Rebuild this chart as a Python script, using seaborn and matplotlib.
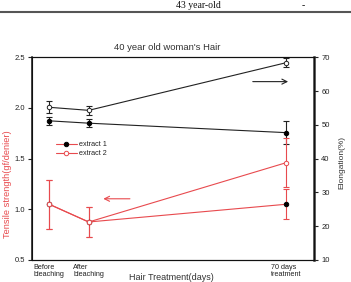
import matplotlib
matplotlib.use("Agg")
import matplotlib.pyplot as plt
import matplotlib.transforms as mtransforms
import seaborn as sns
import pandas as pd
import numpy as np

# ---- data ----
categories = ["Before\nbleaching", "After\nbleaching", "70 days\ntreatment"]
x_pos = [0.3, 1.0, 4.5]

# Tensile strength (left axis, red)
tensile_ext1 = [1.05, 0.875, 1.05]
tensile_ext1_err = [0.24, 0.15, 0.15]
tensile_ext2 = [1.05, 0.875, 1.46]
tensile_ext2_err = [0.24, 0.15, 0.24]

# Elongation (right axis, black)
elong_ext1 = [51.2, 50.5, 47.7]
elong_ext1_err = [1.2, 1.2, 3.5]
elong_ext2 = [55.2, 54.3, 68.4]
elong_ext2_err = [1.8, 1.4, 1.3]

left_ticks = [0.5, 1.0, 1.5, 2.0, 2.5]
right_ticks = [10, 20, 30, 40, 50, 60, 70]

RED = "#e84a4e"
FONT = "Liberation Sans"

sns.set_style("white")
plt.rcParams["font.family"] = [FONT, "DejaVu Sans"]

W, H = 351, 282
fig = plt.figure(figsize=(W / 100, H / 100), dpi=100)
ax_l, ax_r_px, ax_t, ax_b = 32.3, 314.3, 57.3, 260.0
ax = fig.add_axes([ax_l / W, (H - ax_b) / H, (ax_r_px - ax_l) / W, (ax_b - ax_t) / H])
ax2 = ax.twinx()

df_t = pd.DataFrame({"x": x_pos * 2,
                     "v": tensile_ext1 + tensile_ext2,
                     "s": ["extract 1"] * 3 + ["extract 2"] * 3})
df_e = pd.DataFrame({"x": x_pos * 2,
                     "v": elong_ext1 + elong_ext2,
                     "s": ["extract 1"] * 3 + ["extract 2"] * 3})

# black (elongation) on right axis
ax2.errorbar(x_pos, elong_ext2, yerr=elong_ext2_err, fmt="none", ecolor="#222222",
             elinewidth=0.8, capsize=2.2, capthick=0.8, zorder=2)
ax2.errorbar(x_pos, elong_ext1, yerr=elong_ext1_err, fmt="none", ecolor="#222222",
             elinewidth=0.8, capsize=2.2, capthick=0.8, zorder=2)
sns.lineplot(data=df_e[df_e.s == "extract 2"], x="x", y="v", ax=ax2, color="#222222",
             lw=0.8, marker="o", markersize=3.2, markerfacecolor="white",
             markeredgecolor="#222222", markeredgewidth=0.7, legend=False, zorder=3)
sns.lineplot(data=df_e[df_e.s == "extract 1"], x="x", y="v", ax=ax2, color="#222222",
             lw=0.8, marker="o", markersize=3.2, markerfacecolor="black",
             markeredgecolor="black", markeredgewidth=0.7, legend=False, zorder=3)

# red (tensile) on left axis
ax.errorbar(x_pos, tensile_ext1, yerr=tensile_ext1_err, fmt="none", ecolor=RED,
            elinewidth=0.8, capsize=2.2, capthick=0.8, zorder=2)
ax.errorbar(x_pos, tensile_ext2, yerr=tensile_ext2_err, fmt="none", ecolor=RED,
            elinewidth=0.8, capsize=2.2, capthick=0.8, zorder=2)
sns.lineplot(data=df_t[df_t.s == "extract 1"], x="x", y="v", ax=ax, color=RED,
             lw=0.8, marker="o", markersize=3.2, markerfacecolor="black",
             markeredgecolor="black", markeredgewidth=0.7, legend=False, zorder=3,
             label="extract 1")
sns.lineplot(data=df_t[df_t.s == "extract 2"], x="x", y="v", ax=ax, color=RED,
             lw=0.8, marker="o", markersize=3.2, markerfacecolor="white",
             markeredgecolor=RED, markeredgewidth=0.7, legend=False, zorder=3,
             label="extract 2")

ax.set_zorder(ax2.get_zorder() + 1)
ax.patch.set_visible(False)

ax.set_xlim(0, 5)
ax.set_ylim(0.5, 2.5)
ax2.set_ylim(10, 70)
ax.set_xticks([0, 1, 2, 3, 4, 5])
ax.set_xticklabels([])
ax.set_yticks(left_ticks)
ax.set_yticklabels([f"{t:.1f}" for t in left_ticks])
ax2.set_yticks(right_ticks)
ax2.set_yticklabels([str(t) for t in right_ticks])

ax.tick_params(axis="y", direction="out", length=3, width=0.8, pad=2,
               labelsize=5.5, colors="#222222")
ax.tick_params(axis="x", direction="inout", length=3, width=0.8, colors="#222222")
ax2.tick_params(axis="y", direction="out", length=3, width=0.8, pad=2,
                labelsize=5.5, colors="#222222")

for a in (ax, ax2):
    for sp in a.spines.values():
        sp.set_visible(True)
        sp.set_color("#111111")
        sp.set_linewidth(0.8)
ax2.spines["right"].set_linewidth(1.8)
ax2.spines["right"].set_color("#333333")
ax.spines["left"].set_linewidth(1.1)

ax.set_xlabel("")
ax.set_ylabel("")
ax2.set_ylabel("")

# category labels under axis
trans = mtransforms.blended_transform_factory(ax.transData, ax.transAxes)
for xp, lab in zip(x_pos, categories):
    ax.text(xp, -0.018, lab, transform=trans, ha="center", va="top",
            multialignment="left", fontsize=5.2, color="#222222", linespacing=1.0)

fig.text(171 / W, 1 - 277.5 / H, "Hair Treatment(days)", ha="center", va="center",
         fontsize=6.5, color="#333333")
fig.text(167 / W, 1 - 47 / H, "40 year old woman's Hair", ha="center", va="center",
         fontsize=6.8, color="#333333")
fig.text(8 / W, 1 - 184 / H, "Tensile strength(gf/denier)", ha="center", va="center",
         rotation=90, fontsize=6.7, color=RED)
fig.text(342 / W, 1 - 162.5 / H, "Elongation(%)", ha="center", va="center",
         rotation=90, fontsize=6.0, color="#333333")

# arrows
ax.annotate("", xy=(0.917, 0.88), xytext=(0.772, 0.88), xycoords="axes fraction",
            arrowprops=dict(arrowstyle="->", color="#222222", lw=0.8,
                            mutation_scale=9))
ax.annotate("", xy=(0.242, 0.302), xytext=(0.356, 0.302), xycoords="axes fraction",
            arrowprops=dict(arrowstyle="->", color=RED, lw=0.8, mutation_scale=9))

# legend
leg = ax.legend(loc="upper left", bbox_to_anchor=(0.075, 0.6), frameon=False,
                fontsize=5.2, handlelength=2.8, handletextpad=0.3,
                labelspacing=0.25, borderaxespad=0)
for t in leg.get_texts():
    t.set_color("#222222")

# header from the page above
fig.text(198 / W, 1 - 8 / H, "43 year-old", ha="center", va="baseline",
         fontsize=7.0, family="Liberation Serif", color="#111111")
fig.text(303 / W, 1 - 8 / H, "-", ha="center", va="baseline",
         fontsize=7.0, family="Liberation Serif", color="#111111")
fig.add_artist(plt.Line2D([0, 1], [1 - 11.5 / H, 1 - 11.5 / H], color="#555555",
                          lw=1.5, transform=fig.transFigure))

fig.savefig("out.png", dpi=100)
